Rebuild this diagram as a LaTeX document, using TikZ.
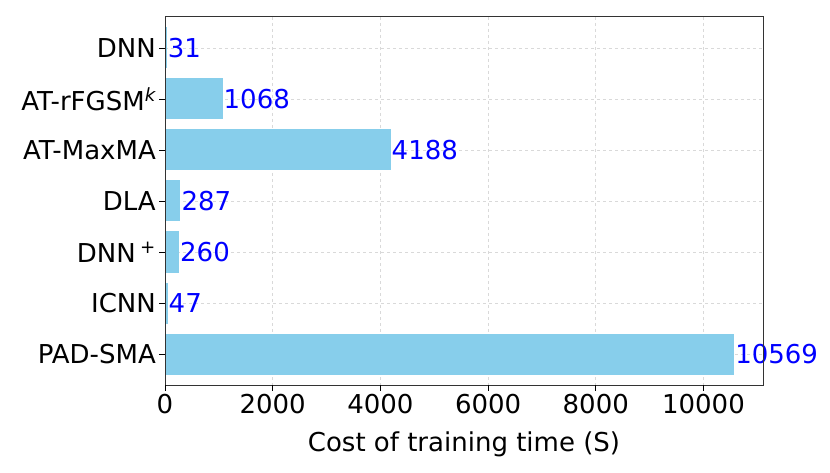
\documentclass[tikz,border=0pt]{standalone}
\usepackage{fontspec}
\setmainfont{DejaVu Sans}
\definecolor{barblue}{HTML}{87CEEB}
\tikzset{
	x=1pt, y=-1pt,
	bar/.style={fill=barblue, draw=none},
	gridline/.style={gray!30, dashed, line width=0.6pt},
	valuelabel/.style={right, inner sep=1pt, text=blue, font=\fontsize{26}{30}\selectfont},
	ticklabel/.style={font=\fontsize{26}{30}\selectfont},
	baseline}

\begin{document}
\begin{tikzpicture}
		\useasboundingbox (0,0) rectangle (830,473);
		\coordinate (o) at (165,385);
		
		% grid
		\foreach \v in {2000,4000,...,10000}
			\draw[gridline] ({165+0.05385*\v},17) -- ({165+0.05385*\v},385);
		\foreach \n/\lab/\val [count=\i from 0] in {dnn/DNN/31, atr/AT-rFGSM\textsuperscript{\itshape k}/1068, atm/AT-MaxMA/4188, dla/DLA/287, dnnp/DNN\,\textsuperscript{+}/260, icnn/ICNN/47, pad/PAD-SMA/10569}{
			\draw[gridline] (165,{48+51*\i}) -- (763,{48+51*\i});
			\fill[bar] (165,{48+51*\i-20.5}) rectangle ({165+0.05385*\val},{48+51*\i+20.5});
			\node[valuelabel] (v\n) at ({165+0.05385*\val},{48+51*\i}) {\val};
			\draw[line width=0.8pt] (165,{48+51*\i}) -- (159,{48+51*\i});
			\node[ticklabel, left, inner sep=2pt] (l\n) at (158,{48+51*\i}) {\lab};
		}
		
		% axes
		\draw[line width=1pt, black!80] (165,17) rectangle (763,385);
		\foreach \v in {0,2000,...,10000}{
			\draw[line width=0.8pt] ({165+0.05385*\v},385) -- ({165+0.05385*\v},391);
			\node[ticklabel, below, inner sep=2pt] at ({165+0.05385*\v},392) {\v};
		}
		\node[ticklabel] (xlab) at (464,444) {Cost of training time (S)};
	\end{tikzpicture}
\end{document}
